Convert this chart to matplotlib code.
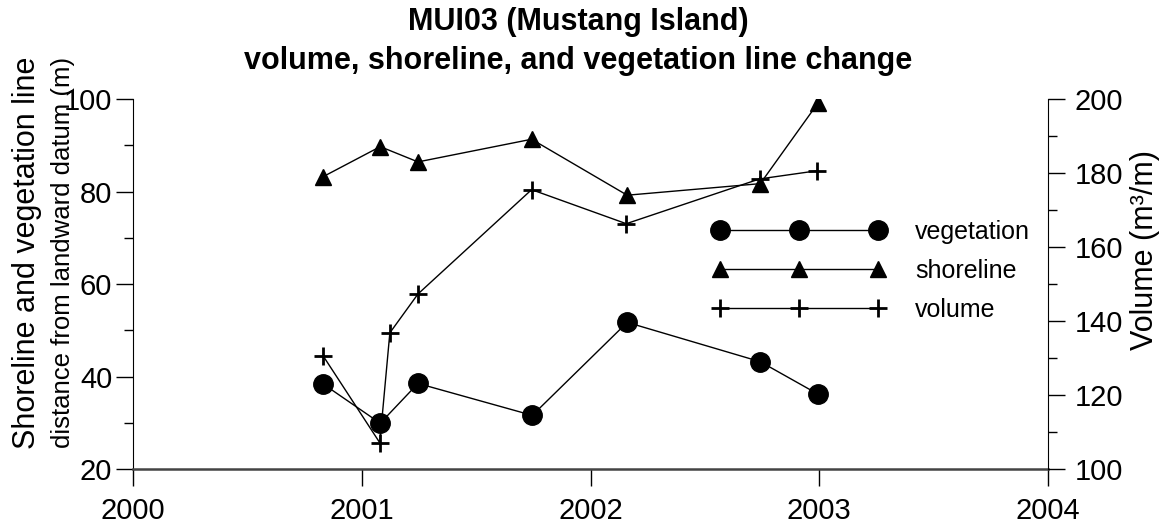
import matplotlib
matplotlib.use("Agg")
import matplotlib.pyplot as plt
from matplotlib.ticker import MultipleLocator

plt.rcParams['font.family'] = ['Liberation Sans', 'DejaVu Sans']

# survey dates as decimal years
veg_year = [2000.83, 2001.08, 2001.245, 2001.745, 2002.16, 2002.742, 2002.994]
veg_dist = [38.4, 29.9, 38.5, 31.6, 51.7, 43.2, 36.2]

shore_year = [2000.83, 2001.08, 2001.245, 2001.742, 2002.16, 2002.742, 2002.994]
shore_dist = [83.2, 89.7, 86.4, 91.3, 79.2, 81.7, 99.1]

vol_year = [2000.83, 2001.078, 2001.122, 2001.245, 2001.742, 2002.156, 2002.739, 2002.99]
vol_m3 = [130.6, 107.1, 136.8, 147.3, 175.5, 166.3, 178.4, 180.6]

year_ticks = [2000, 2001, 2002, 2003, 2004]

fig = plt.figure(figsize=(11.64, 5.32), dpi=100)
ax = fig.add_axes([0.1145, 0.1184, 0.7858, 0.6955])
ax2 = ax.twinx()

l1, = ax.plot(veg_year, veg_dist, 'k-', marker='o', ms=14, lw=1.0, label='vegetation')
l2, = ax.plot(shore_year, shore_dist, 'k-', marker='^', ms=12, lw=1.0, label='shoreline')
l3, = ax2.plot(vol_year, vol_m3, 'k-', marker='+', ms=13, mew=2, lw=1.0, label='volume')

ax.set_xlim(2000, 2004)
ax.set_ylim(20, 100)
ax2.set_ylim(100, 200)
ax.set_xticks(year_ticks)
ax.yaxis.set_major_locator(MultipleLocator(20))
ax.yaxis.set_minor_locator(MultipleLocator(10))
ax2.yaxis.set_major_locator(MultipleLocator(20))
ax2.yaxis.set_minor_locator(MultipleLocator(10))

# tick lengths in points (17 px / 9 px at 100 dpi)
for a in (ax, ax2):
    a.spines['top'].set_visible(False)
    a.tick_params(which='major', direction='out', length=12.2, width=1.0, labelsize=21, pad=3)
    a.tick_params(which='minor', direction='out', length=6.5, width=1.0)
ax.spines['right'].set_visible(False)
ax2.spines['left'].set_visible(False)
ax2.spines['bottom'].set_visible(False)
ax.spines['bottom'].set_linewidth(1.8)
ax.spines['bottom'].set_color('#444444')
ax.tick_params(axis='x', pad=8)
ax2.tick_params(axis='y', pad=7)

fig.text(0.0235, 0.525, 'Shoreline and vegetation line', rotation=90, fontsize=22,
         ha='center', va='center')
fig.text(0.054, 0.525, 'distance from landward datum (m)', rotation=90, fontsize=18.5,
         ha='center', va='center')
fig.text(0.9837, 0.53, 'Volume (m³/m)', rotation=90, fontsize=22, ha='center', va='center')

fig.text(0.497, 0.922, 'MUI03 (Mustang Island)\nvolume, shoreline, and vegetation line change',
         family=['Liberation Sans Narrow', 'Liberation Sans'], fontweight='bold', fontsize=22,
         ha='center', va='center', linespacing=1.4)

ax2.legend(handles=[l1, l2, l3], loc='center left', bbox_to_anchor=(0.6334, 0.535),
           frameon=False, numpoints=3, handlelength=6.9, handletextpad=1.2,
           labelspacing=0.6, borderpad=0, borderaxespad=0, fontsize=18)

fig.savefig('out.png', dpi=100)
